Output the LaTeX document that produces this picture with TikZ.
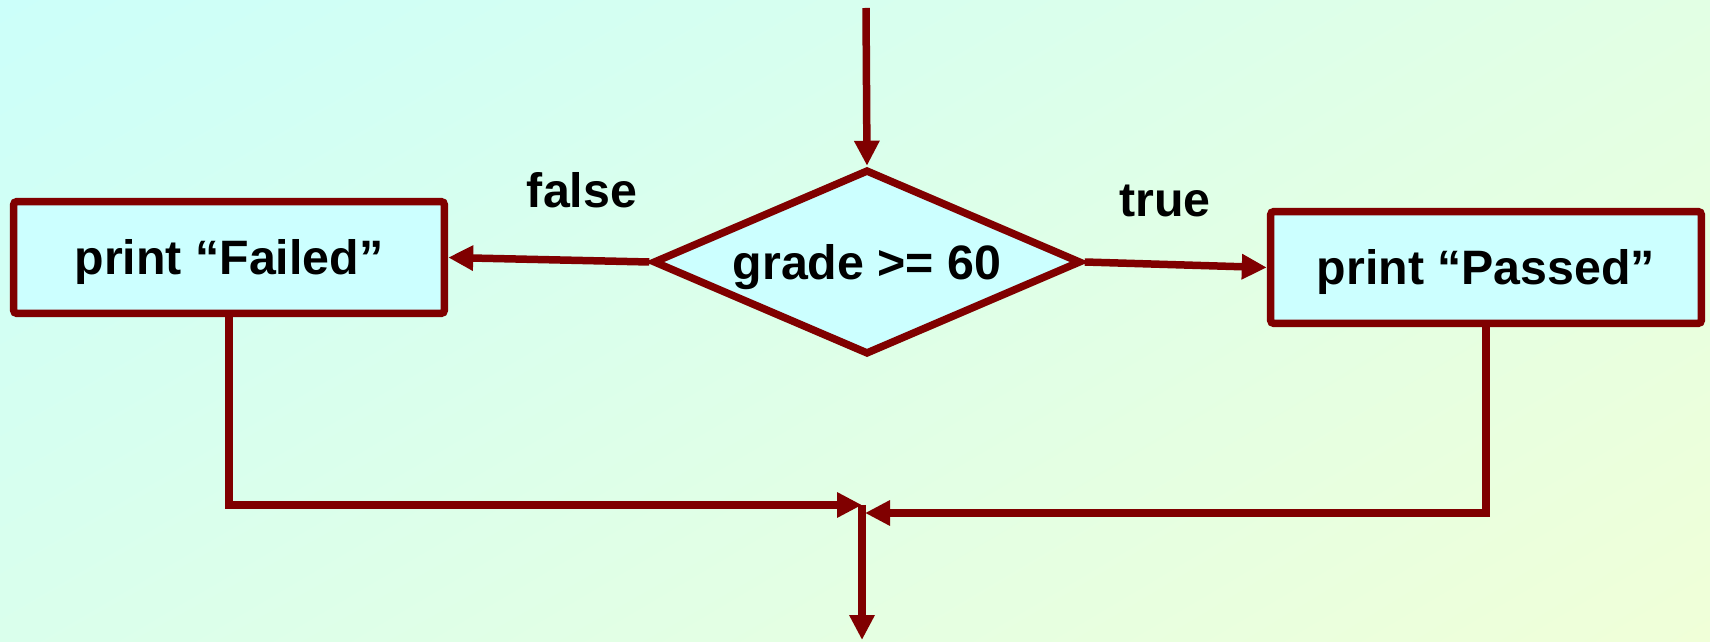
\documentclass[tikz,border=0pt]{standalone}
\usepackage{fontspec}
\setmainfont{Liberation Sans}
\usepackage{xcolor}
\usepackage{tikz}
\usetikzlibrary{positioning,arrows.meta,shapes.geometric,shadings,calc}

\definecolor{maroon}{HTML}{800000}
\definecolor{boxfill}{HTML}{CCFFFF}
\definecolor{bgUL}{HTML}{CCFFFA}
\definecolor{bgUR}{HTML}{E2FFE4}
\definecolor{bgLL}{HTML}{DAFFEC}
\definecolor{bgLR}{HTML}{F0FFD8}

\begin{document}
\begin{tikzpicture}[x=0.02cm, y=0.02cm,
    every node/.style={font=\fontsize{27.5}{31}\selectfont\bfseries, text depth=0pt},
    action/.style={draw=maroon, fill=boxfill, line width=0.15cm, rounded corners=2pt,
        minimum width=8.62cm, minimum height=2.24cm, inner sep=0pt},
    decision/.style={diamond, aspect=2.3, draw=maroon, fill=boxfill, line width=0.15cm, inner sep=0pt,
        minimum width=8.56cm, minimum height=3.70cm},
    branch/.style={anchor=base},
    arrow/.style={-{Triangle[length=0.5cm, width=0.48cm]}, draw=maroon, line width=0.15cm},
]
% background
\shade[upper left=bgUL, upper right=bgUR, lower left=bgLL, lower right=bgLR]
    (0,0) rectangle (1710,642);
\useasboundingbox (0,0) rectangle (1710,642);

\node[decision] (test) at (867,380) {grade >= 60};
\node[action] (failed) at (229,384.5) {print “Failed”};
\node[action] (passed) at (1486,374.5) {print “Passed”};

\node[branch] (falselbl) at (582,434) {false};
\node[branch] (truelbl) at (1165,425) {true};

\coordinate (entry) at (866,634);
\coordinate (join) at (862,137);
\coordinate (joinr) at (865,129);
\coordinate (exit) at (862,2);

\draw[arrow] (entry) -- (test.north);
\draw[arrow] (test.west) -- (failed.east);
\draw[arrow] (test.east) -- (passed.west);
\draw[arrow] (failed.south) |- (join);
\draw[arrow] (passed.south) |- (joinr);
\draw[arrow] (join) -- (exit);
\end{tikzpicture}
\end{document}
